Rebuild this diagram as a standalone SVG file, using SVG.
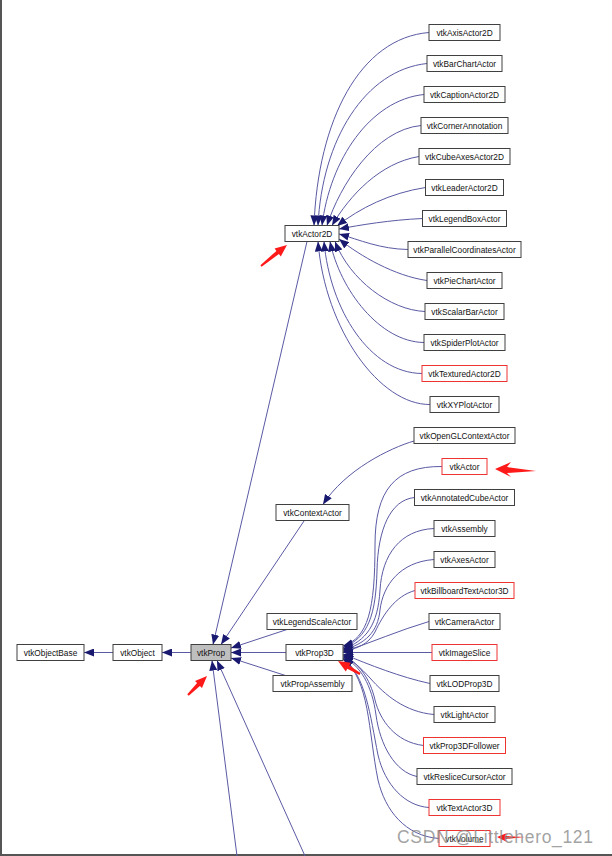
<svg xmlns="http://www.w3.org/2000/svg" width="612" height="856" viewBox="0 0 612 856">
<style>
.n rect{fill:#ffffff;stroke:#404040;stroke-width:1}
.n.r rect{stroke:#ee3333}
.n.g rect{fill:#bfbfbf}
.n text{font-family:"Liberation Sans",Arial,sans-serif;font-size:8.3px;fill:#111111;text-anchor:middle}
#edges path{fill:none;stroke:#5a5aa4;stroke-width:1;marker-end:url(#ah)}
.ra{fill:#ff1a1a}
</style>
<defs>
<marker id="ah" viewBox="0 0 10 8" refX="10" refY="4" markerWidth="10" markerHeight="8" markerUnits="userSpaceOnUse" orient="auto">
<path d="M0,0 L10,4 L0,8 z" fill="#191970"/>
</marker>
</defs>
<rect x="0" y="0" width="612" height="856" fill="#ffffff"/>
<rect x="0" y="0" width="2" height="856" fill="#555555"/>
<rect x="0" y="854" width="612" height="2" fill="#555555"/>

<g id="edges">
<path d="M113,652.5 L84,652.5"/>
<path d="M191,652.5 L162,652.5"/>
<path d="M286,652.5 L231,652.5"/>
<path d="M287,629.5 L231,648"/>
<path d="M287,676 L231,658"/>
<path d="M304,521 L221,644.5"/>
<path d="M307,241.5 L213,644.5"/>
<path d="M237,856 L212,660.5"/>
<path d="M305,856 L217,660.5"/>
<path d="M414,441 C390,448 345,470 323,504.5"/>
<path d="M429,32.5 C360,38 318,120 314,225.5"/>
<path d="M427,63.5 C365,70 322,140 318,225.5"/>
<path d="M424,94.5 C370,100 330,160 322,225.5"/>
<path d="M421,125.5 C375,130 340,185 327,225.5"/>
<path d="M419,156.5 C380,163 350,195 332,225.5"/>
<path d="M425.5,187.5 C390,193 360,208 337,226"/>
<path d="M422.5,218.5 C390,220 360,225 339,229"/>
<path d="M408,249.5 C380,249 360,240 339,234"/>
<path d="M427,280.5 C395,276 360,256 339,239"/>
<path d="M425,311.5 C390,310 350,280 335,241.5"/>
<path d="M424,342.5 C380,342 340,290 330,241.5"/>
<path d="M422,373.5 C370,373 330,310 324,241.5"/>
<path d="M430,404.5 C380,405 325,330 318,241.5"/>
<path d="M442,466.5 C395,466 375,490 375,545 C375,610 368,638 343,646"/>
<path d="M414.5,497.5 C390,500 378,530 377,570 C376,615 368,638 343,647.5"/>
<path d="M434,528.5 C400,530 382,555 380,590 C378,625 366,641 343,649"/>
<path d="M434,559.5 C400,562 383,585 380,610 C378,632 365,644 343,650"/>
<path d="M415,590.5 C395,596 383,615 375,632 C368,645 356,649 343,651"/>
<path d="M429,621.5 C400,630 370,643 343,652"/>
<path d="M432,652.5 L343,652.5"/>
<path d="M430,683.5 C400,677 370,665 343,654"/>
<path d="M434,714.5 C405,712 385,695 370,678 C360,667 352,660 343,655"/>
<path d="M423.5,745.5 C395,742 380,720 375,700 C370,678 358,662 343,656"/>
<path d="M417,776.5 C395,772 380,745 376,715 C372,685 360,665 343,657"/>
<path d="M429,807.5 C405,806 385,785 378,755 C370,715 366,676 343,658"/>
<path d="M439,838.5 C405,836 385,810 378,780 C368,730 370,680 343,659"/>
</g>

<g id="vtkObjectBase" class="n"><rect x="17" y="644.5" width="67" height="16"/><text x="50.5" y="655.5">vtkObjectBase</text></g>
<g id="vtkObject" class="n"><rect x="113" y="644.5" width="49" height="16"/><text x="137.5" y="655.5">vtkObject</text></g>
<g id="vtkProp" class="n g"><rect x="191" y="644.5" width="40" height="16"/><text x="211" y="655.5">vtkProp</text></g>
<g id="vtkActor2D" class="n"><rect x="285" y="225.5" width="54" height="16"/><text x="312" y="236.5">vtkActor2D</text></g>
<g id="vtkContextActor" class="n"><rect x="276" y="504.5" width="73" height="16"/><text x="312.5" y="515.5">vtkContextActor</text></g>
<g id="vtkLegendScaleActor" class="n"><rect x="267" y="613.5" width="90" height="16"/><text x="312" y="624.5">vtkLegendScaleActor</text></g>
<g id="vtkProp3D" class="n"><rect x="286" y="644.5" width="57" height="16"/><text x="314.5" y="655.5">vtkProp3D</text></g>
<g id="vtkPropAssembly" class="n"><rect x="273" y="675.5" width="79" height="16"/><text x="312.5" y="686.5">vtkPropAssembly</text></g>

<g id="vtkAxisActor2D" class="n"><rect x="429" y="24.5" width="71" height="16"/><text x="464.5" y="35.5">vtkAxisActor2D</text></g>
<g id="vtkBarChartActor" class="n"><rect x="427" y="55.5" width="75" height="16"/><text x="464.5" y="66.5">vtkBarChartActor</text></g>
<g id="vtkCaptionActor2D" class="n"><rect x="424" y="86.5" width="81" height="16"/><text x="464.5" y="97.5">vtkCaptionActor2D</text></g>
<g id="vtkCornerAnnotation" class="n"><rect x="421" y="117.5" width="87" height="16"/><text x="464.5" y="128.5">vtkCornerAnnotation</text></g>
<g id="vtkCubeAxesActor2D" class="n"><rect x="419" y="148.5" width="91" height="16"/><text x="464.5" y="159.5">vtkCubeAxesActor2D</text></g>
<g id="vtkLeaderActor2D" class="n"><rect x="425.5" y="179.5" width="78" height="16"/><text x="464.5" y="190.5">vtkLeaderActor2D</text></g>
<g id="vtkLegendBoxActor" class="n"><rect x="422.5" y="210.5" width="84" height="16"/><text x="464.5" y="221.5">vtkLegendBoxActor</text></g>
<g id="vtkParallelCoordinatesActor" class="n"><rect x="408" y="241.5" width="113" height="16"/><text x="464.5" y="252.5">vtkParallelCoordinatesActor</text></g>
<g id="vtkPieChartActor" class="n"><rect x="427" y="272.5" width="75" height="16"/><text x="464.5" y="283.5">vtkPieChartActor</text></g>
<g id="vtkScalarBarActor" class="n"><rect x="425" y="303.5" width="79" height="16"/><text x="464.5" y="314.5">vtkScalarBarActor</text></g>
<g id="vtkSpiderPlotActor" class="n"><rect x="424" y="334.5" width="81" height="16"/><text x="464.5" y="345.5">vtkSpiderPlotActor</text></g>
<g id="vtkTexturedActor2D" class="n r"><rect x="422" y="365.5" width="85" height="16"/><text x="464.5" y="376.5">vtkTexturedActor2D</text></g>
<g id="vtkXYPlotActor" class="n"><rect x="430" y="396.5" width="69" height="16"/><text x="464.5" y="407.5">vtkXYPlotActor</text></g>
<g id="vtkOpenGLContextActor" class="n"><rect x="414" y="427.5" width="101" height="16"/><text x="464.5" y="438.5">vtkOpenGLContextActor</text></g>
<g id="vtkActor" class="n r"><rect x="442" y="458.5" width="45" height="16"/><text x="464.5" y="469.5">vtkActor</text></g>
<g id="vtkAnnotatedCubeActor" class="n"><rect x="414.5" y="489.5" width="100" height="16"/><text x="464.5" y="500.5">vtkAnnotatedCubeActor</text></g>
<g id="vtkAssembly" class="n"><rect x="434" y="520.5" width="61" height="16"/><text x="464.5" y="531.5">vtkAssembly</text></g>
<g id="vtkAxesActor" class="n"><rect x="434" y="551.5" width="61" height="16"/><text x="464.5" y="562.5">vtkAxesActor</text></g>
<g id="vtkBillboardTextActor3D" class="n r"><rect x="415" y="582.5" width="99" height="16"/><text x="464.5" y="593.5">vtkBillboardTextActor3D</text></g>
<g id="vtkCameraActor" class="n"><rect x="429" y="613.5" width="71" height="16"/><text x="464.5" y="624.5">vtkCameraActor</text></g>
<g id="vtkImageSlice" class="n r"><rect x="432" y="644.5" width="65" height="16"/><text x="464.5" y="655.5">vtkImageSlice</text></g>
<g id="vtkLODProp3D" class="n"><rect x="430" y="675.5" width="69" height="16"/><text x="464.5" y="686.5">vtkLODProp3D</text></g>
<g id="vtkLightActor" class="n"><rect x="434" y="706.5" width="61" height="16"/><text x="464.5" y="717.5">vtkLightActor</text></g>
<g id="vtkProp3DFollower" class="n r"><rect x="423.5" y="737.5" width="82" height="16"/><text x="464.5" y="748.5">vtkProp3DFollower</text></g>
<g id="vtkResliceCursorActor" class="n"><rect x="417" y="768.5" width="95" height="16"/><text x="464.5" y="779.5">vtkResliceCursorActor</text></g>
<g id="vtkTextActor3D" class="n r"><rect x="429" y="799.5" width="71" height="16"/><text x="464.5" y="810.5">vtkTextActor3D</text></g>
<g id="vtkVolume" class="n r"><rect x="439" y="830.5" width="51" height="16"/><text x="464.5" y="841.5">vtkVolume</text></g>

<g id="annotations">
<polygon class="ra" points="287,245 280.8,256.4 278.9,254.1 261.6,266.8 260.4,265.2 276.4,250.9 274.6,248.6"/>
<polygon class="ra" points="495,469 511,462 507,467 536,471 507,473 511,477"/>
<polygon class="ra" points="207,676 202,688 199.9,685.9 188.7,695.7 187.3,694.3 197.1,683.1 195,681"/>
<polygon class="ra" points="338,661 350.8,662.8 349.3,665.4 360.5,673.1 359.5,674.9 347.3,668.8 345.8,671.4"/>
<polygon class="ra" points="497,837 507,833 505,836 525,837 505,839 507,842"/>
<text x="397" y="843" font-family="'Liberation Sans',Arial,sans-serif" font-size="17.5" fill="#8a8a8a" fill-opacity="0.8" textLength="196" lengthAdjust="spacing">CSDN @Littlehero_121</text>
</g>
</svg>
